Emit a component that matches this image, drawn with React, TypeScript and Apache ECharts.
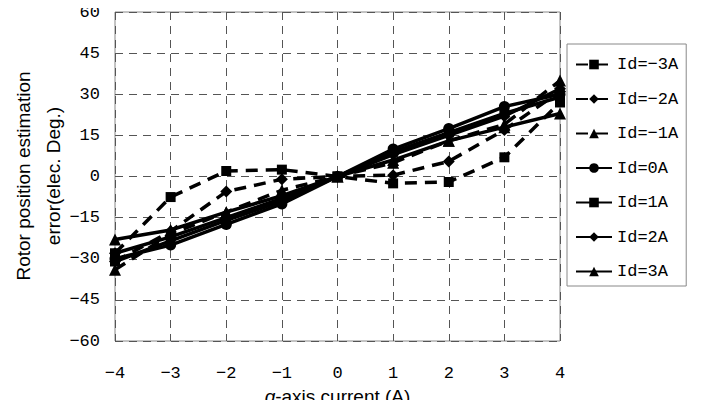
import React, { useEffect, useRef } from "react";
import * as echarts from "echarts";

// q-axis current (A)
const currents = [-4, -3, -2, -1, 0, 1, 2, 3, 4];

// Rotor position estimation error (elec. deg.) for each d-axis current
const idNeg3 = [-28, -7.5, 2, 2.5, 0, -2.5, -2, 7, 27];
const idNeg2 = [-31, -20, -5.5, -1, 0, 0.5, 5.5, 17, 31];
const idNeg1 = [-34, -21, -13, -5, 0, 5, 13, 19, 35];
const id0 = [-30, -25, -17.5, -10, 0, 10, 17.5, 25.5, 30];
const id1 = [-31, -23.5, -16, -9, 0, 9, 16, 23, 29];
const id2 = [-28, -22, -15, -8, 0, 8, 15, 22, 32];
const id3 = [-23, -19.5, -13, -7, 0, 6, 13, 18, 23];

const yTicks = [-60, -45, -30, -15, 0, 15, 30, 45, 60];

const yTitle = "Rotor position estimation\nerror(elec. Deg.)";

const seriesDefs = [
  { name: "Id=-3A", data: idNeg3, symbol: "rect", dashed: true },
  { name: "Id=-2A", data: idNeg2, symbol: "diamond", dashed: true },
  { name: "Id=-1A", data: idNeg1, symbol: "triangle", dashed: true },
  { name: "Id=0A", data: id0, symbol: "circle", dashed: false },
  { name: "Id=1A", data: id1, symbol: "rect", dashed: false },
  { name: "Id=2A", data: id2, symbol: "diamond", dashed: false },
  { name: "Id=3A", data: id3, symbol: "triangle", dashed: false },
];

const minus = (v: number | string) => String(v).replace("-", "\u2212");
const mono = "Liberation Mono";
const sans = "Liberation Sans";

export default function App() {
  const ref = useRef<HTMLDivElement>(null);

  useEffect(() => {
    if (!ref.current) return;
    const chart = echarts.init(ref.current, undefined, { renderer: "svg" });
    chart.setOption({
      animation: false,
      backgroundColor: "#ffffff",
      grid: {
        left: 115,
        right: 145,
        top: 12,
        bottom: 67,
        outerBoundsMode: "none",
        containLabel: false,
        show: true,
        borderColor: "#888888",
        borderWidth: 1,
      },
      legend: {
        orient: "vertical",
        left: 567,
        top: 44,
        width: 116,
        padding: [12, 8, 6, 8],
        itemWidth: 36,
        itemHeight: 12,
        itemGap: 17.5,
        borderColor: "#888888",
        borderWidth: 1,
        textStyle: { fontFamily: mono, fontSize: 17, color: "#000" },
        formatter: (name: string) => minus(name),
        data: seriesDefs.map((s) => s.name),
      },
      // two-line y-axis title, rotated, centred on the plot height
      graphic: [
        {
          type: "text",
          x: 38,
          y: 176,
          rotation: Math.PI / 2,
          style: {
            text: yTitle,
            fill: "#000",
            fontFamily: sans,
            fontSize: 19,
            lineHeight: 30,
            align: "center",
            verticalAlign: "middle",
          },
        },
      ],
      xAxis: {
        type: "value",
        min: -4,
        max: 4,
        interval: 1,
        axisLine: { show: false },
        axisTick: { show: false },
        axisLabel: {
          margin: 24,
          fontFamily: mono,
          fontSize: 17,
          color: "#000",
          formatter: (v: number) => minus(v),
        },
        splitLine: {
          show: true,
          lineStyle: { color: "#555555", type: [8, 6], width: 1 },
        },
        name: "{i|q}-axis current (A)",
        nameLocation: "middle",
        nameGap: 42,
        nameTextStyle: {
          fontFamily: sans,
          fontSize: 19,
          color: "#000",
          rich: {
            i: { fontFamily: sans, fontSize: 19, fontStyle: "italic", color: "#000" },
          },
        },
      },
      yAxis: {
        type: "value",
        min: yTicks[0],
        max: yTicks[yTicks.length - 1],
        interval: 15,
        axisLine: { show: false },
        axisTick: { show: false },
        axisLabel: {
          margin: 15,
          fontFamily: mono,
          fontSize: 17,
          color: "#000",
          formatter: (v: number) => minus(v),
        },
        splitLine: {
          show: true,
          lineStyle: { color: "#555555", type: [8, 6], width: 1 },
        },
      },
      series: seriesDefs.map((s) => ({
        name: s.name,
        type: "line",
        data: currents.map((x, i) => [x, s.data[i]]),
        symbol: s.symbol,
        symbolSize: s.symbol === "circle" ? 11 : s.symbol === "rect" ? 10 : 12,
        showSymbol: true,
        itemStyle: { color: "#000" },
        lineStyle: {
          color: "#000",
          width: 3.5,
          type: s.dashed ? [12, 8] : "solid",
        },
      })),
    });
    return () => chart.dispose();
  }, []);

  return <div ref={ref} style={{ width: 705, height: 408, margin: -8 }} />;
}
